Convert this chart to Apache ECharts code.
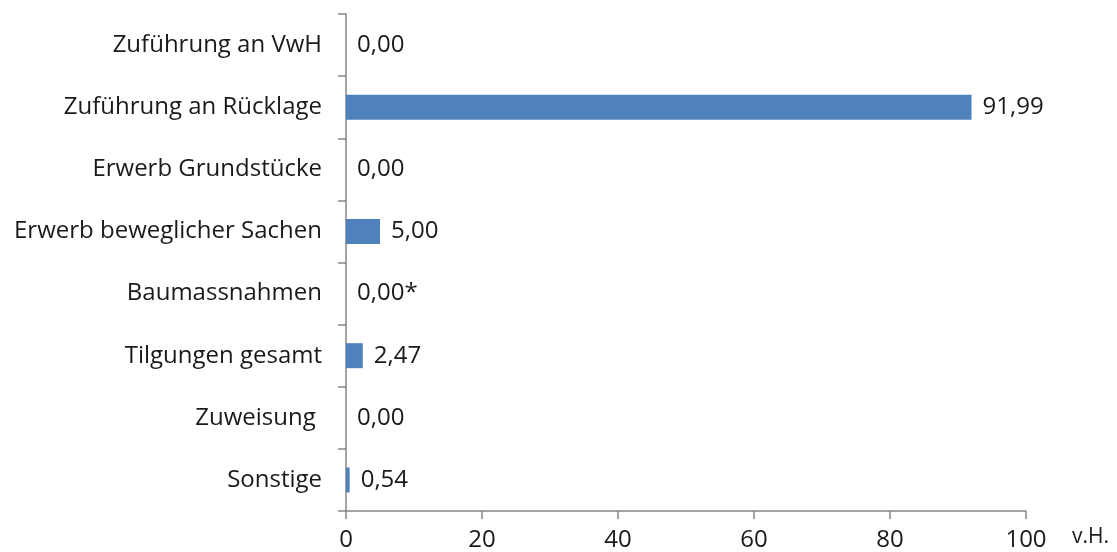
<!DOCTYPE html>
<html>
<head>
<meta charset="utf-8">
<script src="https://cdn.jsdelivr.net/npm/echarts@6/dist/echarts.min.js"></script>
<style>
  html, body { margin: 0; padding: 0; background: #fff; }
  #chart { width: 1117px; height: 552px; }
</style>
</head>
<body>
<div id="chart"></div>
<script>
// Kategorien von oben nach unten
var categories = ['Zuführung an VwH', 'Zuführung an Rücklage', 'Erwerb Grundstücke', 'Erwerb beweglicher Sachen', 'Baumassnahmen', 'Tilgungen gesamt', 'Zuweisung ', 'Sonstige'];
var values = [0, 91.99, 0, 5, 0, 2.47, 0, 0.54];
var notes = ['', '', '', '', '*', '', '', ''];
var xTicks = [0, 20, 40, 60, 80, 100];

var axisColor = '#868686';
var textColor = '#1a1a1a';
var font = '"Open Sans", "Noto Sans", sans-serif';

var chart = echarts.init(document.getElementById('chart'));
chart.setOption({
  animation: false,
  grid: { left: 346, right: 91, top: 14, bottom: 41 },
  xAxis: {
    type: 'value',
    min: xTicks[0],
    max: xTicks[xTicks.length - 1],
    interval: 20,
    name: 'v.H.',
    nameLocation: 'end',
    nameGap: 46,
    nameTextStyle: { color: textColor, fontSize: 21, fontFamily: font, align: 'left', verticalAlign: 'top', padding: [16, 0, 0, 0] },
    axisLine: { show: true, lineStyle: { color: axisColor, width: 1.5 } },
    axisTick: { show: true, length: 8, lineStyle: { color: axisColor, width: 1.5 } },
    axisLabel: { color: textColor, fontSize: 24, fontFamily: font, margin: 17 },
    splitLine: { show: false }
  },
  yAxis: {
    type: 'category',
    inverse: true,
    data: categories,
    axisLine: { show: true, lineStyle: { color: axisColor, width: 1.5 } },
    axisTick: { show: true, length: 8, lineStyle: { color: axisColor, width: 1.5 } },
    axisLabel: { color: textColor, fontSize: 24, fontFamily: font, margin: 24 }
  },
  series: [{
    type: 'bar',
    data: values,
    barWidth: 25,
    itemStyle: { color: '#4f81bd' },
    label: {
      show: true,
      position: 'right',
      distance: 11,
      color: textColor,
      fontSize: 24,
      fontFamily: font,
      formatter: function (p) {
        return p.value.toFixed(2).replace('.', ',') + notes[p.dataIndex];
      }
    }
  }]
});
</script>
</body>
</html>
